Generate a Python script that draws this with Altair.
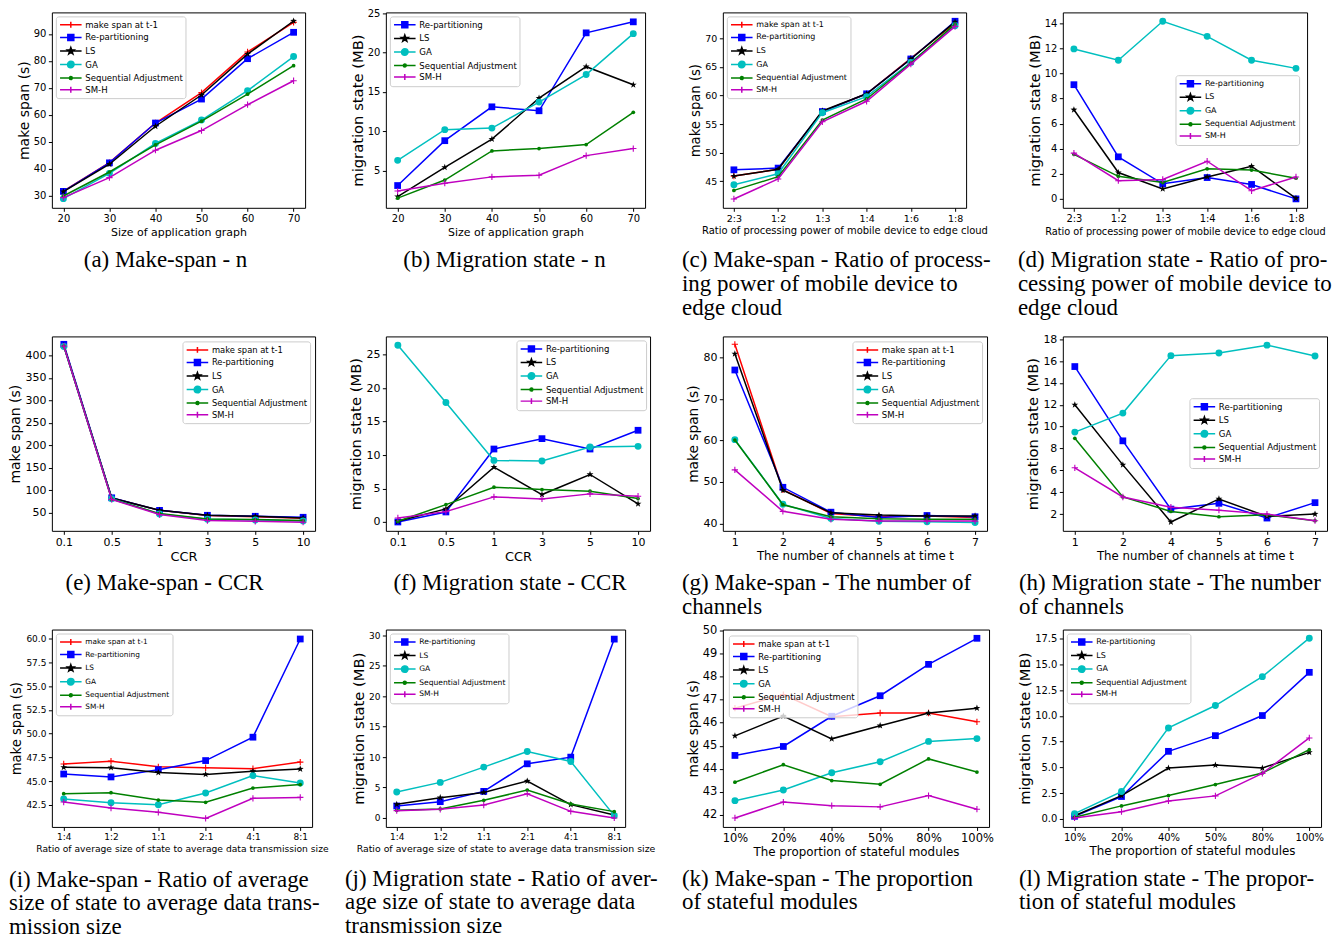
import math
import altair as alt
import pandas as pd

# ---------------- categories / tick labels ----------------
X_APP = ["20", "30", "40", "50", "60", "70"]
X_POWER = ["2:3", "1:2", "1:3", "1:4", "1:6", "1:8"]
X_CCR = ["0.1", "0.5", "1", "3", "5", "10"]
X_CHAN = ["1", "2", "4", "5", "6", "7"]
X_STATE = ["1:4", "1:2", "1:1", "2:1", "4:1", "8:1"]
X_PROP = ["10%", "20%", "40%", "50%", "80%", "100%"]

SERIES = ["make span at t-1", "Re-partitioning", "LS", "GA", "Sequential Adjustment", "SM-H"]
COLORS = ["#ff0000", "#0000ff", "#000000", "#00bfbf", "#008000", "#bf00bf"]
MARKERS = ["plus", "square", "star", "circle", "dot", "plus"]

# ---------------- (a) make span vs n ----------------
A_T1 = [31.6, 42.2, 56.9, 68.2, 83.3, 94.3]
A_REP = [31.5, 42.1, 56.9, 65.8, 80.8, 90.6]
A_LS = [31.4, 41.6, 55.7, 67.3, 82.5, 94.8]
A_GA = [28.8, 38.2, 49.3, 58.0, 68.9, 81.6]
A_SEQ = [29.8, 38.7, 48.8, 57.6, 67.6, 78.2]
A_SMH = [29.2, 36.6, 46.8, 54.1, 63.7, 72.6]
# ---------------- (b) migration state vs n ----------------
B_REP = [3.1, 8.8, 13.1, 12.6, 22.5, 23.9]
B_LS = [1.7, 5.4, 9.0, 14.2, 18.2, 15.9]
B_GA = [6.3, 10.2, 10.4, 13.7, 17.2, 22.4]
B_SEQ = [1.5, 3.8, 7.5, 7.8, 8.3, 12.4]
B_SMH = [2.4, 3.4, 4.2, 4.4, 6.9, 7.8]
# ---------------- (c) make span vs processing power ----------------
C_T1 = [45.9, 47.1, 57.2, 60.3, 66.5, 72.7]
C_REP = [47.0, 47.3, 57.2, 60.3, 66.4, 73.0]
C_LS = [45.9, 47.1, 57.3, 60.3, 66.4, 72.9]
C_GA = [44.4, 46.3, 57.0, 59.8, 65.8, 72.2]
C_SEQ = [43.4, 45.8, 55.7, 59.4, 65.7, 72.5]
C_SMH = [41.9, 45.4, 55.4, 59.0, 65.5, 72.1]
# ---------------- (d) migration state vs processing power ----------------
D_REP = [9.1, 3.35, 1.2, 1.7, 1.15, 0.0]
D_LS = [7.1, 2.1, 0.8, 1.75, 2.6, 0.05]
D_GA = [11.95, 11.05, 14.15, 12.95, 11.05, 10.4]
D_SEQ = [3.55, 1.8, 1.3, 2.4, 2.3, 1.65]
D_SMH = [3.65, 1.45, 1.55, 3.0, 0.65, 1.75]
# ---------------- (e) make span vs CCR ----------------
E_T1 = [422, 82.4, 55.0, 43.3, 41.0, 37.4]
E_REP = [425, 83.0, 55.0, 44.0, 41.8, 39.6]
E_LS = [422, 82.4, 55.1, 44.0, 41.8, 38.2]
E_GA = [420, 81.0, 47.0, 35.2, 33.7, 31.5]
E_SEQ = [421, 80.0, 47.8, 36.0, 34.5, 32.3]
E_SMH = [421, 79.5, 45.6, 32.3, 30.8, 28.6]
# ---------------- (f) migration state vs CCR ----------------
F_REP = [0.0, 1.5, 10.9, 12.45, 10.9, 13.7]
F_LS = [0.1, 1.95, 8.2, 4.1, 7.1, 2.7]
F_GA = [26.4, 17.85, 9.2, 9.1, 11.2, 11.3]
F_SEQ = [0.1, 2.6, 5.2, 4.85, 4.6, 3.5]
F_SMH = [0.6, 1.55, 3.75, 3.45, 4.2, 3.85]
# ---------------- (g) make span vs channels ----------------
G_T1 = [83.2, 48.1, 42.4, 41.6, 41.75, 41.4]
G_REP = [77.0, 48.7, 42.7, 41.4, 41.9, 41.6]
G_LS = [80.9, 48.0, 42.55, 42.0, 41.8, 41.8]
G_GA = [60.2, 44.6, 41.2, 40.5, 40.4, 40.2]
G_SEQ = [60.1, 44.5, 41.6, 41.1, 41.0, 41.0]
G_SMH = [52.9, 42.9, 41.0, 40.6, 40.55, 40.55]
# ---------------- (h) migration state vs channels ----------------
H_REP = [15.5, 8.7, 2.45, 2.98, 1.63, 3.04]
H_LS = [12.0, 6.5, 1.27, 3.38, 1.78, 2.0]
H_GA = [9.5, 11.24, 16.5, 16.74, 17.46, 16.47]
H_SEQ = [8.93, 3.56, 2.24, 1.75, 1.93, 1.39]
H_SMH = [6.23, 3.56, 2.62, 2.35, 1.99, 1.39]
# ---------------- (i) make span vs state/data ratio ----------------
I_T1 = [46.8, 47.1, 46.5, 46.4, 46.3, 47.0]
I_REP = [45.74, 45.43, 46.2, 47.16, 49.63, 60.0]
I_LS = [46.45, 46.41, 45.9, 45.7, 46.03, 46.27]
I_GA = [43.1, 42.71, 42.5, 43.73, 45.57, 44.79]
I_SEQ = [43.66, 43.77, 42.99, 42.75, 44.26, 44.62]
I_SMH = [42.78, 42.15, 41.69, 41.05, 43.17, 43.27]
# ---------------- (j) migration state vs state/data ratio ----------------
J_REP = [1.97, 2.68, 4.37, 8.9, 10.0, 29.4]
J_LS = [2.24, 3.33, 4.2, 6.07, 2.19, 0.49]
J_GA = [4.26, 5.85, 8.36, 10.93, 9.29, 0.38]
J_SEQ = [1.26, 1.48, 2.9, 4.59, 2.3, 1.04]
J_SMH = [1.2, 1.42, 2.13, 3.99, 1.09, 0.0]
# ---------------- (k) make span vs stateful proportion ----------------
K_T1 = [46.63, 47.22, 46.26, 46.42, 46.42, 46.04]
K_REP = [44.58, 44.97, 46.28, 47.17, 48.53, 49.66]
K_LS = [45.43, 46.29, 45.3, 45.87, 46.42, 46.63]
K_GA = [42.62, 43.08, 43.83, 44.31, 45.19, 45.31]
K_SEQ = [43.42, 44.18, 43.49, 43.33, 44.43, 43.86]
K_SMH = [41.87, 42.56, 42.40, 42.35, 42.84, 42.25]
# ---------------- (l) migration state vs stateful proportion ----------------
L_REP = [0.26, 2.18, 6.56, 8.08, 10.03, 14.22]
L_LS = [0.32, 2.27, 4.94, 5.23, 4.94, 6.46]
L_GA = [0.52, 2.66, 8.83, 11.0, 13.8, 17.53]
L_SEQ = [0.16, 1.27, 2.27, 3.34, 4.45, 6.72]
L_SMH = [0.1, 0.71, 1.75, 2.24, 4.42, 7.86]

# ---------------- y axis limits and ticks ----------------
A_YLIM, A_YTICKS = [25.4, 98.0], [30, 40, 50, 60, 70, 80, 90]
B_YLIM, B_YTICKS = [0.27, 25.1], [5, 10, 15, 20, 25]
C_YLIM, C_YTICKS = [40.35, 74.55], [45, 50, 55, 60, 65, 70]
D_YLIM, D_YTICKS = [-0.71, 14.86], [0, 2, 4, 6, 8, 10, 12, 14]
E_YLIM, E_YTICKS = [9.4, 442.6], [50, 100, 150, 200, 250, 300, 350, 400]
F_YLIM, F_YTICKS = [-1.32, 27.72], [0, 5, 10, 15, 20, 25]
G_YLIM, G_YTICKS = [38.2, 85.1], [40, 50, 60, 70, 80]
H_YLIM, H_YTICKS = [0.46, 18.26], [2, 4, 6, 8, 10, 12, 14, 16, 18]
I_YLIM, I_YTICKS = [40.15, 61.0], [42.5, 45.0, 47.5, 50.0, 52.5, 55.0, 57.5, 60.0]
J_YLIM, J_YTICKS = [-1.475, 30.975], [0, 5, 10, 15, 20, 25, 30]
K_YLIM, K_YTICKS = [41.48, 50.04], [42, 43, 44, 45, 46, 47, 48, 49, 50]
L_YLIM, L_YTICKS = [-0.77, 18.37], [0.0, 2.5, 5.0, 7.5, 10.0, 12.5, 15.0, 17.5]

MS = "make span (s)"
MIG = "migration state (MB)"


# ---------------- marker shapes (styling) ----------------
def star_path(cx, R, r):
    pts = []
    for k in range(10):
        ang = -math.pi / 2 + k * math.pi / 5
        rad = R if k % 2 == 0 else r
        pts.append((cx + rad * math.cos(ang), rad * math.sin(ang)))
    return "M" + "L".join(f"{x:.3f},{y:.3f}" for x, y in pts) + "Z"


def circle_path(cx, r):
    return f"M{cx + r:.3f},0A{r},{r},0,1,1,{cx - r:.3f},0A{r},{r},0,1,1,{cx + r:.3f},0Z"


PLUS_PATH = "M-1,0H1M0,-1V1"
POINT_STYLE = {
    "plus": dict(shape=PLUS_PATH, filled=False, size=40, strokeWidth=1.1, opacity=1),
    "square": dict(shape="square", filled=True, size=46, opacity=1),
    "star": dict(shape=star_path(0, 1, 0.4), filled=True, size=52, opacity=1),
    "circle": dict(shape="circle", filled=True, size=48, opacity=1),
    "dot": dict(shape="circle", filled=True, size=14, opacity=1),
}

LX0, LX1, LMX = -0.86, 3.46, 1.3
LINE = f"M{LX0},0H{LX1}"
LEGEND_PATH = {
    "plus": LINE + f"M{LMX},-0.6V0.6",
    "square": LINE + f"M{LMX - 0.6},-0.6H{LMX + 0.6}V0.6H{LMX - 0.6}Z",
    "star": LINE + star_path(LMX, 0.7, 0.28),
    "circle": LINE + circle_path(LMX, 0.65),
    "dot": LINE + circle_path(LMX, 0.3),
}


def build(xs, vals, ylim, yticks, yfmt, ytitle, xtitle, w, h, fs_tick, fs_xt, fs_yt, fs_leg,
          legend_pos, caption, cap_anchor, cap_dx):
    names, cols, marks, rows = [], [], [], []
    for s, c, m, v in zip(SERIES, COLORS, MARKERS, vals):
        if v is None:
            continue
        names.append(s)
        cols.append(c)
        marks.append(m)
        for x, y in zip(xs, v):
            rows.append({"x": x, "series": s, "v": y})
    df = pd.DataFrame(rows)

    x_enc = alt.X("x:N", sort=xs, scale=alt.Scale(type="point", padding=0.25),
                  axis=alt.Axis(title=xtitle, labelAngle=0, labelFontSize=fs_tick,
                                titleFontSize=fs_xt, titlePadding=3, labelPadding=2))
    y_enc = alt.Y("v:Q", scale=alt.Scale(domain=ylim, nice=False, zero=False),
                  axis=alt.Axis(title=ytitle, values=yticks, format=yfmt, labelFontSize=fs_tick,
                                titleFontSize=fs_yt, titlePadding=2, labelPadding=2.5))
    color = alt.Color("series:N", scale=alt.Scale(domain=names, range=cols), legend=None)

    layers = []
    for s, m in zip(names, marks):
        base = alt.Chart().transform_filter(alt.datum.series == s)
        layers.append(base.mark_line(strokeWidth=1.5).encode(x=x_enc, y=y_enc, color=color))
        layers.append(base.mark_point(**POINT_STYLE[m]).encode(x=x_enc, y=y_enc, color=color))

    leg_kwargs = dict(title=None, labelFont="DejaVu Sans", labelFontSize=fs_leg, labelColor="black",
                      symbolSize=100, symbolStrokeWidth=1.5, padding=2.5, rowPadding=0.6,
                      labelOffset=15, fillColor="rgba(255,255,255,0.8)", strokeColor="#cccccc",
                      cornerRadius=2.5, labelLimit=0)
    leg_kwargs.update(legend_pos)
    leg = alt.Legend(**leg_kwargs)
    leg_layer = alt.Chart().transform_filter("datum.v < -1e9").mark_point(filled=True, opacity=1).encode(
        x=x_enc, y=y_enc,
        fill=alt.Fill("series:N", scale=alt.Scale(domain=names, range=cols), legend=leg),
        stroke=alt.Stroke("series:N", scale=alt.Scale(domain=names, range=cols), legend=leg),
        shape=alt.Shape("series:N", scale=alt.Scale(domain=names, range=[LEGEND_PATH[m] for m in marks]),
                        legend=leg),
    )
    layers.append(leg_layer)

    cap_offset = 41.8 - (3.5 + 2 + fs_tick + 3 + fs_xt)
    title = alt.TitleParams(text=caption, orient="bottom", anchor=cap_anchor, dx=cap_dx, offset=cap_offset,
                            font="Liberation Serif", fontSize=23, fontWeight="normal", color="black",
                            lineHeight=24, frame="group")
    return alt.layer(*layers, data=df).resolve_scale(
        fill="independent", stroke="independent", shape="independent"
    ).properties(width=w, height=h, title=title)


TL = lambda off: dict(orient="top-left", offset=off)
TR = lambda off: dict(orient="top-right", offset=off)
NONE = lambda lx, ly: dict(orient="none", legendX=lx, legendY=ly)

H1, H2, H3 = 196, 195, 198
G1, G2, G3 = 71, 73, 74  # horizontal gaps between grid columns

pa = build(X_APP, [A_T1, A_REP, A_LS, A_GA, A_SEQ, A_SMH], A_YLIM, A_YTICKS, "d", MS,
           "Size of application graph", 254, H1, 10, 11, 14, 8.6, TL(4),
           ["(a) Make-span - n"], "middle", -13)
pb = build(X_APP, [None, B_REP, B_LS, B_GA, B_SEQ, B_SMH], B_YLIM, B_YTICKS, "d", MIG,
           "Size of application graph", 260, H1, 10, 11, 14.8, 8.6, TL(4),
           ["(b) Migration state - n"], "middle", -11)
pc = build(X_POWER, [C_T1, C_REP, C_LS, C_GA, C_SEQ, C_SMH], C_YLIM, C_YTICKS, "d", MS,
           "Ratio of processing power of mobile device to edge cloud", 244, H1, 9.5, 10, 13.2, 8.0, TL(4),
           ["(c) Make-span - Ratio of process-", "ing power of mobile device to", "edge cloud"], "start", -41)
pd_ = build(X_POWER, [None, D_REP, D_LS, D_GA, D_SEQ, D_SMH], D_YLIM, D_YTICKS, "d", MIG,
            "Ratio of processing power of mobile device to edge cloud", 245, H1, 10, 9.8, 14.8, 8.0,
            NONE(113, 63),
            ["(d) Migration state - Ratio of pro-", "cessing power of mobile device to", "edge cloud"], "start",
            -45)
pe = build(X_CCR, [E_T1, E_REP, E_LS, E_GA, E_SEQ, E_SMH], E_YLIM, E_YTICKS, "d", MS,
           "CCR", 264, H2, 11, 13, 14, 8.4, TR(5),
           ["(e) Make-span - CCR"], "middle", -19)
pf = build(X_CCR, [None, F_REP, F_LS, F_GA, F_SEQ, F_SMH], F_YLIM, F_YTICKS, "d", MIG,
           "CCR", 265, H2, 11, 13, 14.8, 8.6, TR(4),
           ["(f) Migration state - CCR"], "middle", -8)
pg = build(X_CHAN, [G_T1, G_REP, G_LS, G_GA, G_SEQ, G_SMH], G_YLIM, G_YTICKS, "d", MS,
           "The number of channels at time t", 265, H2, 11, 11.8, 13.8, 8.6, TR(5),
           ["(g) Make-span - The number of", "channels"], "start", -41)
ph = build(X_CHAN, [None, H_REP, H_LS, H_GA, H_SEQ, H_SMH], H_YLIM, H_YTICKS, "d", MIG,
           "The number of channels at time t", 265, H2, 11, 11.8, 14.8, 8.6, NONE(127, 62),
           ["(h) Migration state - The number", "of channels"], "start", -44)
pi = build(X_STATE, [I_T1, I_REP, I_LS, I_GA, I_SEQ, I_SMH], I_YLIM, I_YTICKS, ".1f", MS,
           "Ratio of average size of state to average data transmission size", 261, H3, 9, 9.2, 13.2, 7.4,
           TL(4),
           ["(i) Make-span - Ratio of average", "size of state to average data trans-", "mission size"],
           "start", -43)
pj = build(X_STATE, [None, J_REP, J_LS, J_GA, J_SEQ, J_SMH], J_YLIM, J_YTICKS, "d", MIG,
           "Ratio of average size of state to average data transmission size", 240, H3, 9, 9.4, 14.8, 7.6,
           TL(4),
           ["(j) Migration state - Ratio of aver-", "age size of state to average data", "transmission size"],
           "start", -41)
pk = build(X_PROP, [K_T1, K_REP, K_LS, K_GA, K_SEQ, K_SMH], K_YLIM, K_YTICKS, "d", MS,
           "The proportion of stateful modules", 267, H3, 11.5, 11.9, 13.8, 8.5, TL(6),
           ["(k) Make-span - The proportion", "of stateful modules"], "start", -41)
pl = build(X_PROP, [None, L_REP, L_LS, L_GA, L_SEQ, L_SMH], L_YLIM, L_YTICKS, ".1f", MIG,
           "The proportion of stateful modules", 259, H3, 10, 11.9, 14.8, 8.0, TL(4),
           ["(l) Migration state - The propor-", "tion of stateful modules"], "start", -44)

SPACER_DF = pd.DataFrame({"s": [0]})


def spacer(w, h):
    return alt.Chart(SPACER_DF).mark_point(opacity=0).encode(
        x=alt.value(0), y=alt.value(0)
    ).properties(width=w, height=h, view=alt.ViewBackground(stroke="transparent", strokeWidth=0))


cells = [
    pa, spacer(G1, H1), pb, spacer(G2, H1), pc, spacer(G3, H1), pd_,
    *[spacer(1, 129) for _ in range(7)],
    pe, spacer(G1, H2), pf, spacer(G2, H2), pg, spacer(G3, H2), ph,
    *[spacer(1, 99) for _ in range(7)],
    pi, spacer(G1, H3), pj, spacer(G2, H3), pk, spacer(G3, H3), pl,
]

chart = alt.concat(*cells, columns=7, spacing=0, bounds="flush", align="each").properties(
    padding={"left": 0, "top": -2, "right": 0, "bottom": 0}
).configure(font="DejaVu Sans").configure_view(
    stroke="black", strokeWidth=1
).configure_axis(
    domain=False, grid=False, ticks=True, tickColor="black", tickSize=3.5, tickWidth=1,
    labelColor="black", titleColor="black", labelFont="DejaVu Sans", titleFont="DejaVu Sans",
    titleFontWeight="normal"
)

chart.save("out.html", embed_options={"renderer": "svg", "actions": False})
